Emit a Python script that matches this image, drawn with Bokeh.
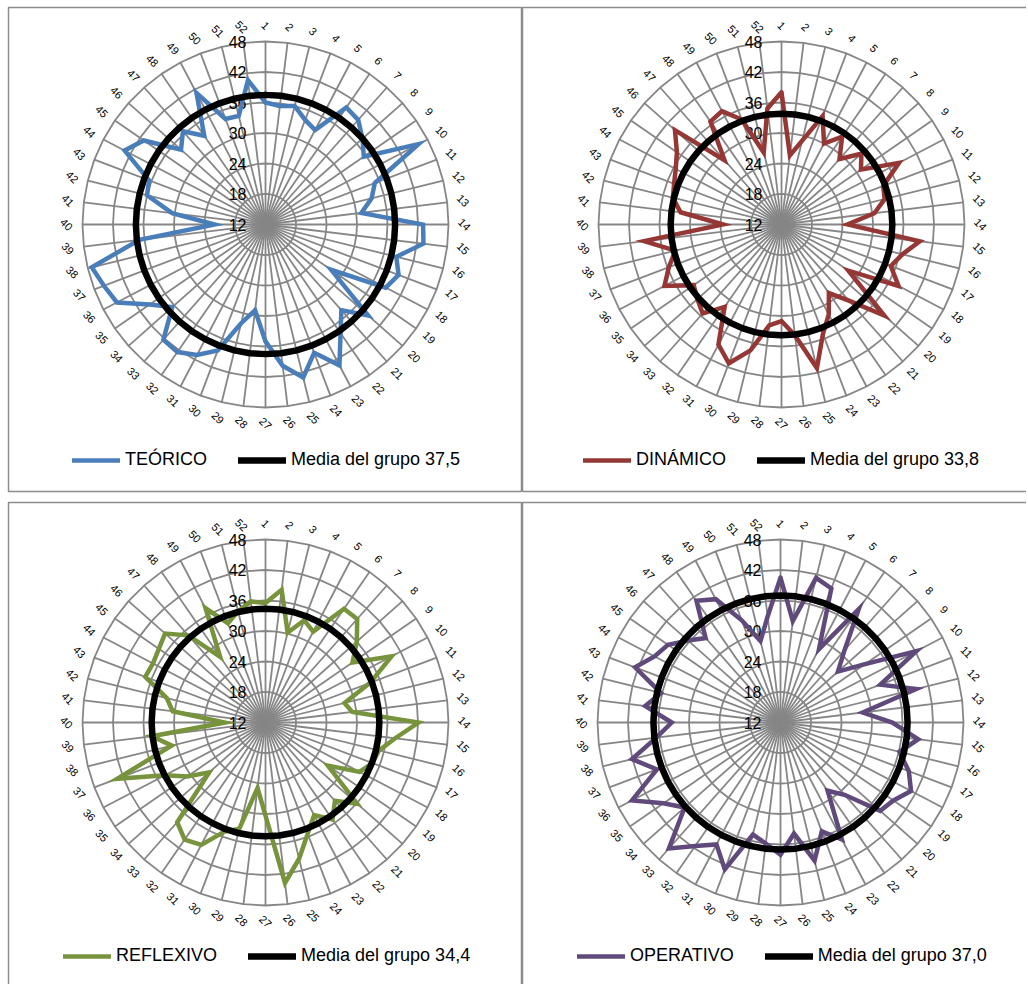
import numpy as np
from bokeh.plotting import figure
from bokeh.models import Range1d, Legend, LegendItem
from bokeh.embed import file_html
from bokeh.resources import INLINE
from bokeh.core.properties import value

# ---------------- data ----------------
categories = [str(i) for i in range(1, 53)]
radial_ticks = [12, 18, 24, 30, 36, 42, 48]

teorico = [36, 35.5, 36, 34, 33, 40, 39.5, 37.5, 35.5, 46,
           35, 33.5, 31, 43, 43.3, 38.5, 40, 38.7, 27.7, 39,
           34.5, 38, 43.3, 39, 43, 40, 35, 29, 32, 38.5,
           41, 42.5, 42.3, 36.5, 39.7, 45, 46, 47.2, 37, 22,
           30.5, 36, 36.5, 43.3, 41.1, 34.2, 36.5, 33.2, 41.2, 34.2, 34, 40.6]
dinamico = [38, 25.7, 29, 34.8, 30, 33, 29.2, 33, 31, 38.1,
            33.4, 32.9, 30.4, 25, 39.4, 36.5, 35, 38, 28, 39,
            32, 28.4, 32, 35, 41.1, 34, 31, 32, 37.5, 41.2,
            38.7, 31.7, 35.4, 34.1, 33, 38, 35.7, 33.5, 39.2, 23.5,
            32, 34, 34.6, 35.5, 37, 40, 28.9, 36.6, 37.2, 34.1, 26.6, 35]
reflexivo = [35.5, 38.3, 30.2, 33.5, 32.2, 39.2, 39.2, 36, 32.8, 40,
             34, 28, 29.2, 42.1, 37.7, 35, 34.5, 32.9, 26.9, 36.1,
             32.6, 35.2, 32.6, 35.4, 39.6, 43.8, 30.3, 25, 33.5, 35,
             39.2, 40, 38.2, 26.8, 30.7, 34.3, 43.2, 31, 34.5, 20,
             30.4, 32, 37.3, 37, 37.5, 38.4, 34.9, 27.7, 37.4, 32.9, 34.5, 36]
operativo = [40.5, 32.1, 41.3, 40.2, 28.3, 39.1, 31, 27.1, 32.2, 42.2,
             33, 39.5, 28.3, 34, 39.3, 36.1, 39, 41, 39, 38.2,
             31, 28.3, 38, 34.9, 40, 34, 38, 36, 34.7, 42.9,
             39.1, 41.5, 45.1, 37.2, 40, 45, 38, 42.1, 36.6, 33.4,
             38.8, 36.2, 42.6, 40, 38.9, 36.3, 34.2, 41.1, 39.4, 33.5, 28.5, 33]

series_names = ["TEÓRICO", "DINÁMICO", "REFLEXIVO", "OPERATIVO"]
series_values = [teorico, dinamico, reflexivo, operativo]
group_means = [37.5, 33.8, 34.4, 37.0]
mean_labels = ["Media del grupo 37,5", "Media del grupo 33,8",
               "Media del grupo 34,4", "Media del grupo 37,0"]

# ---------------- style / layout ----------------
series_colors = ["#4A7EBB", "#953735", "#77933C", "#604A7B"]
FONT = "Liberation Sans"
GRID = "#868686"
R_PX = 183.0
LABEL_R = 199.0
W, H = 1026, 984

# panel boxes (left, right, top, bottom) in page pixels, chart centres, legend anchors
panel_boxes = [(8, 521, 7, 491), (522, 1040, 7, 491), (8, 521, 502, 1000), (522, 1040, 502, 1000)]
centers = [(265, 224), (781, 224), (265, 722), (780, 722)]
legend_pos = [(72, 460), (583, 460), (63, 956), (577, 956)]

p = figure(width=W, height=H, x_range=Range1d(0, W), y_range=Range1d(-H, 0),
           output_backend="svg", toolbar_location=None, min_border=0,
           x_axis_location=None, y_axis_location=None)
p.xgrid.visible = False
p.ygrid.visible = False
p.outline_line_color = None
p.background_fill_color = "white"
p.border_fill_color = "white"

p.quad(left=[b[0] for b in panel_boxes], right=[b[1] for b in panel_boxes],
       top=[-b[2] for b in panel_boxes], bottom=[-b[3] for b in panel_boxes],
       fill_color=None, line_color="#8c8c8c", line_width=1.5)

n = len(categories)
theta = 2 * np.pi * np.arange(n) / n
s, c = np.sin(theta), np.cos(theta)


def rad(v):
    return (np.asarray(v, dtype=float) - radial_ticks[0]) / (radial_ticks[-1] - radial_ticks[0]) * R_PX


for i in range(4):
    cx, cy = centers[i]
    cyd = -cy
    # rings
    xs, ys = [], []
    for t in radial_ticks[1:]:
        r = rad(t)
        xs.append(list(np.append(cx + r * s, cx + r * s[0])))
        ys.append(list(np.append(cyd + r * c, cyd + r * c[0])))
    p.multi_line(xs=xs, ys=ys, line_color=GRID, line_width=1.8)
    # spokes
    p.segment(x0=[cx] * n, y0=[cyd] * n, x1=list(cx + R_PX * s), y1=list(cyd + R_PX * c),
              line_color=GRID, line_width=1.8)
    # radial tick labels
    p.text(x=[cx - 19] * len(radial_ticks), y=list(cyd + rad(radial_ticks)),
           text=[str(t) for t in radial_ticks], text_align="right", text_baseline="middle",
           text_font=value(FONT), text_font_size=value("16px"), text_color="#000000")
    # category labels
    p.text(x=list(cx + LABEL_R * s), y=list(cyd + LABEL_R * c), text=categories,
           angle=-np.pi / 4, text_align="center", text_baseline="middle",
           text_font=value(FONT), text_font_size=value("11px"), text_color="#000000")
    # series
    rv = rad(series_values[i])
    sx = np.append(cx + rv * s, cx + rv[0] * s[0])
    sy = np.append(cyd + rv * c, cyd + rv[0] * c[0])
    r_series = p.line(x=list(sx), y=list(sy), line_color=series_colors[i], line_width=4.5,
                      line_join="miter", line_cap="round")
    # group mean
    rm = rad([group_means[i]] * n)
    mx = np.append(cx + rm * s, cx + rm[0] * s[0])
    my = np.append(cyd + rm * c, cyd + rm[0] * c[0])
    r_mean = p.line(x=list(mx), y=list(my), line_color="#000000", line_width=6.5,
                    line_join="round", line_cap="round")
    # legend
    lx, ly = legend_pos[i]
    leg = Legend(items=[LegendItem(label=series_names[i], renderers=[r_series]),
                        LegendItem(label=mean_labels[i], renderers=[r_mean])],
                 location=(lx, H - ly - 10), orientation="horizontal",
                 padding=0, margin=0, spacing=31, label_standoff=5,
                 glyph_width=48, glyph_height=20, label_height=20,
                 label_text_font=FONT, label_text_font_size="18px", label_text_color="#000000",
                 border_line_color=None, background_fill_alpha=0)
    p.add_layout(leg)

open("out.html", "w").write(file_html(p, INLINE))
